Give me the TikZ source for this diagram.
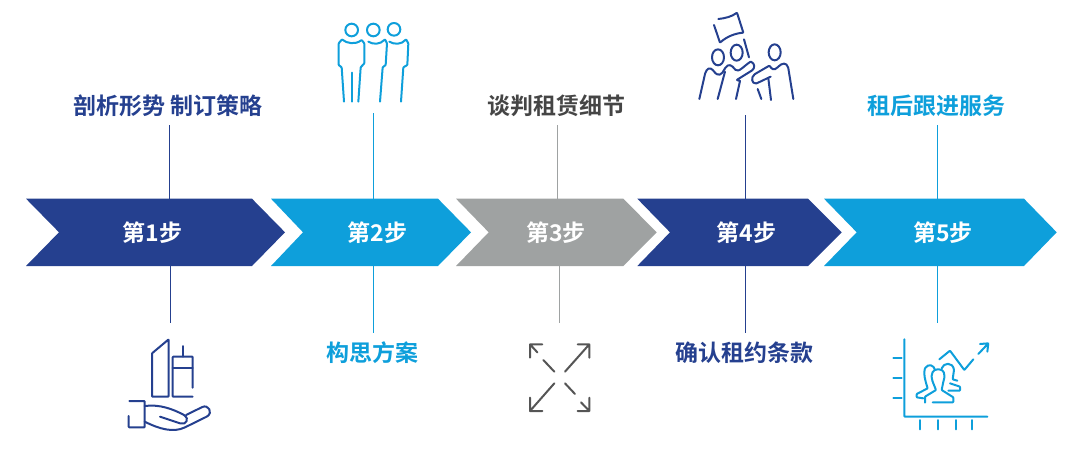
\documentclass[tikz,border=0pt]{standalone}
\usepackage{fontspec}
\setmainfont{Noto Sans CJK SC}[BoldFont={Noto Sans CJK SC Bold}]
\usetikzlibrary{positioning}
\definecolor{navy}{HTML}{25408F}
\definecolor{sky}{HTML}{0E9FDB}
\definecolor{ash}{HTML}{9FA2A2}
\definecolor{ink}{HTML}{454545}
\definecolor{icongrey}{HTML}{555555}
\tikzset{
  x=1pt,y=-1pt,
  stepbox/.style={inner sep=0pt,text=white,font=\fontsize{23}{23}\selectfont\bfseries,minimum height=67pt},
  lab/.style={inner sep=0pt,font=\fontsize{23}{25}\selectfont\bfseries,minimum height=24pt},
  conn/.style={line width=1pt},
  icon/.style={line width=2pt,line cap=round,line join=round,rounded corners=0.6pt},
}
\newcommand{\chevron}[5]{% colour, left, notch, topright, tip
  \fill[#1] (#2,198.7) -- (#4,198.7) -- (#5,232.3) -- (#4,266) -- (#2,266) -- (#3,232.3) -- cycle;
}
\begin{document}
\begin{tikzpicture}
\useasboundingbox (0,0) rectangle (1080,448);
% chevrons
\chevron{navy}{26}{59}{252}{285}
\chevron{sky}{271}{303}{438}{471}
\chevron{ash}{456}{488.7}{623.3}{656.7}
\chevron{navy}{637.3}{670}{808}{841.7}
\chevron{sky}{824}{856.7}{1024}{1056.7}
\node[stepbox] (s1) at (152.5,232.3) {第1步};
\node[stepbox] (s2) at (377.7,232.3) {第2步};
\node[stepbox] (s3) at (555.8,232.3) {第3步};
\node[stepbox] (s4) at (746.7,232.3) {第4步};
\node[stepbox] (s5) at (943,232.3) {第5步};
% labels
\node[lab,text=navy] (l1) at (168,106) {剖析形势 制订策略};
\node[lab,text=ink] (l3) at (556.5,106) {谈判租赁细节};
\node[lab,text=sky] (l5) at (936.5,106) {租后跟进服务};
\node[lab,text=sky] (l2) at (372,353) {构思方案};
\node[lab,text=navy] (l4) at (744,353) {确认租约条款};
% connector free ends
\coordinate (a1) at (169,125); \coordinate (b1) at (169,199);
\coordinate (c1) at (170.5,266); \coordinate (d1) at (170.5,323);
\coordinate (a2) at (373,113); \coordinate (b2) at (373,199);
\coordinate (c2) at (373,266); \coordinate (d2) at (373,333);
\coordinate (a3) at (557.7,125); \coordinate (b3) at (557.7,199);
\coordinate (c3) at (559.3,266); \coordinate (d3) at (559.3,323);
\coordinate (a4) at (745,115); \coordinate (b4) at (745,199);
\coordinate (c4) at (745,266); \coordinate (d4) at (745,333);
\coordinate (a5) at (937,125); \coordinate (b5) at (937,199);
\coordinate (c5) at (937,266); \coordinate (d5) at (937,323);
\draw[conn,navy] (a1) -- (b1) (c1) -- (d1);
\draw[conn,sky] (a2) -- (b2) (c2) -- (d2);
\draw[conn,ash] (a3) -- (b3) (c3) -- (d3);
\draw[conn,navy] (a4) -- (b4) (c4) -- (d4);
\draw[conn,sky] (a5) -- (b5) (c5) -- (d5);
% hand & buildings
\begin{scope}[shift={(110,320)},x=1pt/3,y=-1pt/3,icon,navy]
\draw (126,100) -- (176,58) -- (176,230) -- (126,230) -- cycle;
\draw (219,78) -- (219,110);
\draw (248,203) -- (248,110) -- (188,110) -- (188,230) -- (248,230);
\draw (188,145) -- (248,145);
\draw (58,243) -- (104,243) -- (104,322) -- (56,322) -- (56,288);
\draw (104,258) .. controls (150,252) and (190,268) .. (222,285)
  .. controls (238,295) and (230,315) .. (210,310) -- (150,290);
\draw (228,285) -- (275,262) .. controls (295,252) and (310,278) .. (290,290)
  -- (225,322) .. controls (190,338) and (150,328) .. (104,305);
\end{scope}
% three people
\begin{scope}[shift={(320,10)},x=1pt/3,y=-1pt/3,icon,sky]
\draw (95,60) circle [x radius=19,y radius=19];
\draw (160,60) circle [x radius=19,y radius=19];
\draw (222,58) circle [x radius=19,y radius=19];
\draw (72,275) -- (65,172) -- (56,165) -- (56,100) -- (66,88) .. controls (80,100) and (105,105) .. (125,90) -- (133,100) -- (133,160) -- (122,172) -- (115,275);
\draw (95,188) -- (95,275);
\draw (145,95) .. controls (160,104) and (180,104) .. (195,88) -- (201,100) -- (197,165) -- (188,172) -- (180,275);
\draw (208,95) .. controls (222,104) and (245,104) .. (258,88) -- (265,100) -- (262,165) -- (250,172) -- (243,275);
\end{scope}
% flag & group
\begin{scope}[shift={(690,0)},x=1pt/3,y=-1pt/3,icon,navy]
\draw (85,57) .. controls (105,55) and (125,50) .. (141,38) -- (160,98) .. controls (135,100) and (110,110) .. (90,128) -- (72,75);
\draw (162,118) -- (177,172);
\draw (84,172) circle [x radius=18,y radius=24];
\draw (140,158) circle [x radius=18,y radius=24];
\draw (254,157) circle [x radius=18,y radius=24];
\draw (28,297) -- (45,222) .. controls (50,205) and (60,200) .. (70,212) .. controls (85,232) and (95,225) .. (105,205) .. controls (115,190) and (125,195) .. (135,208) .. controls (145,220) and (165,195) .. (182,185) .. controls (195,190) and (195,205) .. (185,212) -- (140,240) -- (150,243);
\draw (105,215) -- (83,297);
\draw (150,243) -- (138,297);
\draw (310,297) -- (295,205) .. controls (290,185) and (275,190) .. (265,200) .. controls (250,215) and (245,205) .. (238,197) -- (195,222) .. controls (182,232) and (185,252) .. (200,250) -- (242,230);
\draw (235,235) -- (243,300);
\draw (203,267) -- (214,297);
\end{scope}
% arrows out
\begin{scope}[shift={(510,330)},x=1pt/3,y=-1pt/3,icon,icongrey,rounded corners=0pt]
\draw (60,83) -- (60,43) -- (97,43) (60,43) -- (82,67) (100,90) -- (133,125);
\draw (203,43) -- (238,43) -- (238,83) (238,43) -- (165,125);
\draw (60,203) -- (60,243) -- (97,243) (60,243) -- (133,160);
\draw (238,203) -- (238,243) -- (203,243) (238,243) -- (213,217) (165,160) -- (195,192);
\end{scope}
% chart
\begin{scope}[shift={(880,320)},x=1pt/3,y=-1pt/3,icon,sky]
\draw (73,58) -- (73,290) -- (322,290);
\draw (40,115) -- (65,115) (40,175) -- (65,175) (40,235) -- (65,235);
\draw (120,300) -- (120,328) (173,300) -- (173,328) (227,300) -- (227,328) (275,300) -- (275,328);
\draw (178,118) -- (210,92) -- (253,150) -- (280,118);
\draw (295,102) -- (325,70) (300,72) -- (325,70) -- (322,95);
\draw (158,247) -- (220,247) -- (220,232) -- (185,210) -- (190,185) .. controls (198,160) and (190,148) .. (175,148) .. controls (160,148) and (150,160) .. (158,185) -- (168,210) -- (135,230) -- (135,248);
\draw (165,150) .. controls (162,135) and (145,130) .. (135,145) .. controls (130,160) and (135,180) .. (143,205) -- (110,222) -- (110,232) -- (130,235);
\draw (185,145) .. controls (190,128) and (218,125) .. (222,150) -- (218,178) -- (232,182) (210,190) -- (240,200) -- (240,212) -- (205,212);
\end{scope}
\end{tikzpicture}
\end{document}
